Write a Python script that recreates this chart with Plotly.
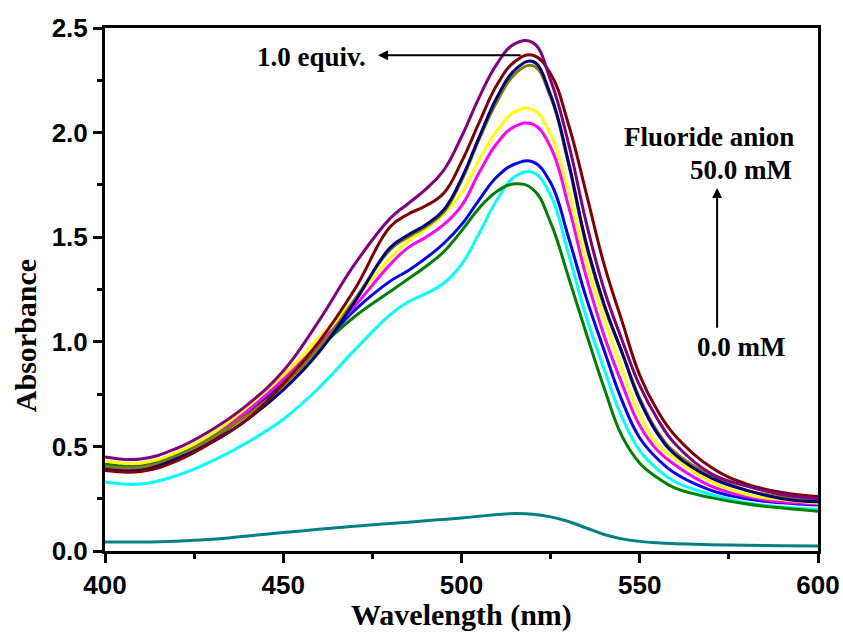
import plotly.graph_objects as go

wavelength = [400, 410, 420, 430, 440, 450, 460, 470, 480, 485, 490, 495, 500, 505, 510,
              515, 520, 525, 530, 535, 540, 545, 550, 555, 560, 570, 580, 590, 600]

teal = [0.043, 0.043, 0.047, 0.056, 0.072, 0.088, 0.104, 0.118, 0.132, 0.138, 0.145, 0.151, 0.158, 0.166, 0.174,
        0.179, 0.176, 0.163, 0.141, 0.110, 0.079, 0.058, 0.046, 0.039, 0.035, 0.030, 0.027, 0.025, 0.024]
cyan = [0.33, 0.32, 0.36, 0.43, 0.52, 0.63, 0.78, 0.96, 1.13, 1.19, 1.23, 1.28, 1.37, 1.52, 1.68,
        1.79, 1.81, 1.70, 1.42, 1.12, 0.87, 0.64, 0.48, 0.39, 0.33, 0.27, 0.23, 0.21, 0.20]
green = [0.415, 0.41, 0.46, 0.55, 0.67, 0.81, 0.97, 1.12, 1.24, 1.30, 1.36, 1.43, 1.53, 1.64, 1.72,
         1.755, 1.73, 1.57, 1.31, 1.04, 0.78, 0.55, 0.42, 0.35, 0.30, 0.255, 0.225, 0.205, 0.19]
blue = [0.39, 0.39, 0.44, 0.53, 0.66, 0.80, 0.97, 1.15, 1.29, 1.34, 1.40, 1.47, 1.56, 1.68, 1.79,
        1.85, 1.86, 1.76, 1.50, 1.21, 0.96, 0.72, 0.54, 0.44, 0.37, 0.29, 0.25, 0.23, 0.22]
magenta = [0.40, 0.40, 0.45, 0.54, 0.67, 0.82, 0.99, 1.17, 1.37, 1.45, 1.50, 1.56, 1.65, 1.81, 1.95,
           2.03, 2.04, 1.93, 1.65, 1.31, 1.03, 0.80, 0.60, 0.48, 0.41, 0.31, 0.26, 0.235, 0.225]
yellow = [0.43, 0.42, 0.47, 0.56, 0.69, 0.84, 1.02, 1.20, 1.40, 1.48, 1.54, 1.61, 1.71, 1.87, 2.01,
          2.10, 2.11, 1.99, 1.72, 1.38, 1.11, 0.87, 0.65, 0.51, 0.44, 0.33, 0.27, 0.245, 0.23]
olive = [0.405, 0.40, 0.45, 0.54, 0.65, 0.79, 0.97, 1.20, 1.44, 1.50, 1.55, 1.62, 1.77, 1.97, 2.15,
         2.28, 2.32, 2.17, 1.85, 1.46, 1.17, 0.95, 0.73, 0.57, 0.47, 0.36, 0.29, 0.26, 0.245]
navy = [0.39, 0.385, 0.44, 0.52, 0.63, 0.77, 0.95, 1.19, 1.45, 1.51, 1.56, 1.63, 1.78, 1.98, 2.17,
        2.30, 2.34, 2.18, 1.86, 1.47, 1.18, 0.95, 0.72, 0.56, 0.46, 0.35, 0.29, 0.25, 0.235]
maroon = [0.385, 0.38, 0.43, 0.52, 0.63, 0.80, 1.00, 1.25, 1.55, 1.61, 1.65, 1.71, 1.86, 2.05, 2.23,
          2.34, 2.37, 2.28, 2.04, 1.71, 1.37, 1.10, 0.84, 0.67, 0.55, 0.40, 0.32, 0.28, 0.26]
purple = [0.45, 0.44, 0.49, 0.58, 0.70, 0.86, 1.10, 1.37, 1.59, 1.66, 1.73, 1.82, 1.98, 2.17, 2.33,
          2.425, 2.43, 2.25, 1.95, 1.57, 1.25, 1.01, 0.79, 0.63, 0.51, 0.37, 0.31, 0.27, 0.25]

series = [
    ("0.0 mM", teal, "#008080"),
    ("cyan", cyan, "#00FFFF"),
    ("green", green, "#008000"),
    ("blue", blue, "#0000FF"),
    ("magenta", magenta, "#FF00FF"),
    ("yellow", yellow, "#FFFF00"),
    ("olive", olive, "#808000"),
    ("navy", navy, "#000080"),
    ("maroon", maroon, "#800000"),
    ("purple", purple, "#800080"),
]

fig = go.Figure()
for name, vals, col in series:
    fig.add_trace(go.Scatter(x=wavelength, y=vals, mode="lines", name=name,
                             line=dict(color=col, width=3, shape="spline", smoothing=1.2),
                             showlegend=False))

serif = "Liberation Serif, Times New Roman, serif"
sans = "Liberation Sans, Arial, sans-serif"

axis_common = dict(showline=True, linecolor="black", linewidth=3, mirror=True,
                   ticks="outside", tickwidth=3, ticklen=9, tickcolor="black",
                   showgrid=False, zeroline=False, automargin=False,
                   tickfont=dict(family=sans, size=26, color="black", weight="bold"))

fig.update_xaxes(range=[400, 600], dtick=50, tick0=400,
                 minor=dict(ticks="outside", dtick=25, ticklen=5, tickwidth=3, tickcolor="black"),
                 **axis_common)
fig.update_yaxes(range=[0, 2.5], dtick=0.5, tick0=0, tickformat=".1f",
                 minor=dict(ticks="outside", dtick=0.25, ticklen=5, tickwidth=3, tickcolor="black"),
                 **axis_common)

tfont = dict(family=serif, size=30, color="black")
fig.add_annotation(xref="paper", yref="paper", x=0.5, y=-0.123, text="<b>Wavelength (nm)</b>",
                   showarrow=False, font=tfont, xanchor="center", yanchor="middle")
fig.add_annotation(xref="paper", yref="paper", x=-0.112, y=0.411, text="<b>Absorbance</b>",
                   showarrow=False, font=tfont, textangle=-90, xanchor="center", yanchor="middle")

afont = dict(family=serif, size=27, color="black")
fig.add_annotation(x=458.0, y=2.36, text="<b>1.0 equiv.</b>", showarrow=False, font=afont,
                   xanchor="center", yanchor="middle")
fig.add_annotation(x=476.6, y=2.37, ax=517, ay=2.37, axref="x", ayref="y", text="",
                   showarrow=True, arrowhead=2, arrowsize=1, arrowwidth=2, arrowcolor="black")
fig.add_annotation(x=593.8, y=1.98, text="<b>Fluoride anion</b>", showarrow=False, font=afont,
                   xanchor="right", yanchor="middle")
fig.add_annotation(x=593.3, y=1.82, text="<b>50.0 mM</b>", showarrow=False, font=afont,
                   xanchor="right", yanchor="middle")
fig.add_annotation(x=571.7, y=1.735, ax=571.7, ay=1.06, axref="x", ayref="y", text="",
                   showarrow=True, arrowhead=2, arrowsize=1, arrowwidth=2, arrowcolor="black")
fig.add_annotation(x=578.4, y=0.975, text="<b>0.0 mM</b>", showarrow=False, font=afont,
                   xanchor="center", yanchor="middle")

fig.update_layout(width=843, height=640, margin=dict(l=105, r=25, t=28, b=89),
                  plot_bgcolor="white", paper_bgcolor="white")

fig.write_html("out.html")
